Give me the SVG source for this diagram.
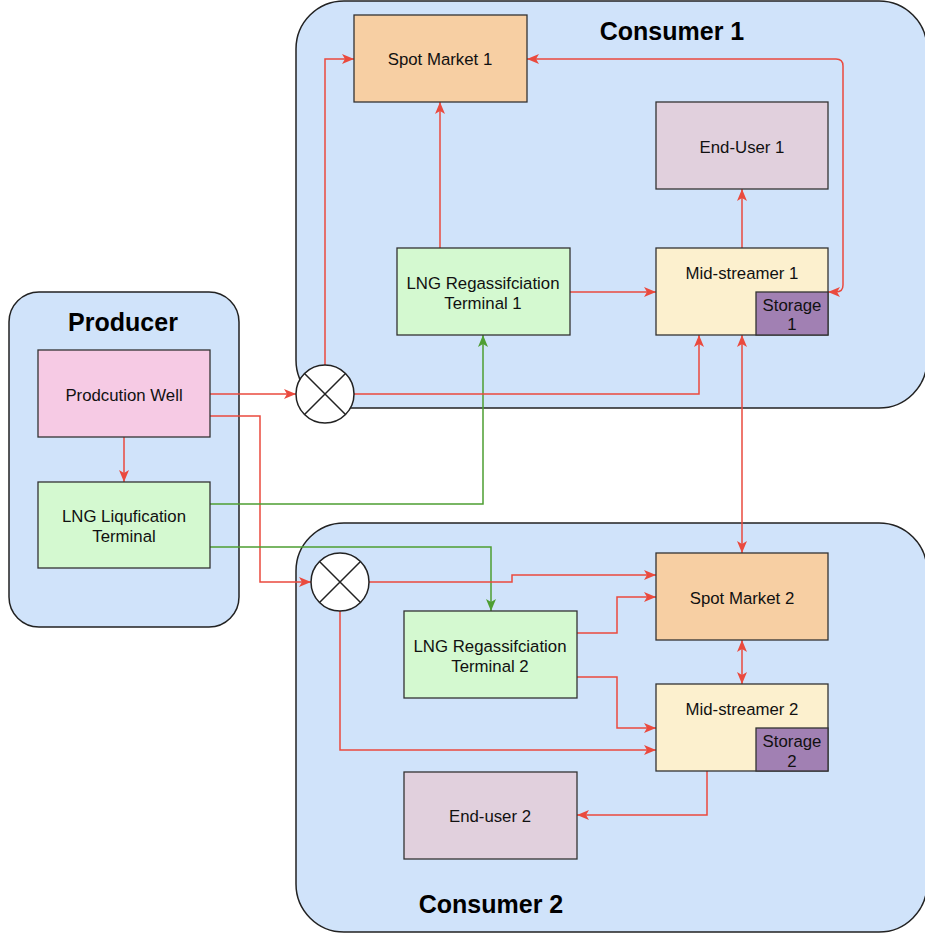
<svg xmlns="http://www.w3.org/2000/svg" width="925" height="936" viewBox="0 0 925 936">
<style>
.cont{fill:#D0E3FA;stroke:#222;stroke-width:1.5}
.box{stroke:#333;stroke-width:1.3}
.t{font-family:"Liberation Sans",Arial,sans-serif;font-size:16.8px;fill:#111;text-anchor:middle;dominant-baseline:central}
.title{font-family:"Liberation Sans",Arial,sans-serif;font-size:25px;font-weight:bold;fill:#000;text-anchor:middle;dominant-baseline:central}
.r{fill:none;stroke:#EA4A3E;stroke-width:1.5;marker-end:url(#ar)}
.rb{fill:none;stroke:#EA4A3E;stroke-width:1.5;marker-end:url(#ar);marker-start:url(#ar)}
.g{fill:none;stroke:#4E9E32;stroke-width:1.5;marker-end:url(#ag)}
.junc{fill:#fff;stroke:#222;stroke-width:1.5}
.x{stroke:#222;stroke-width:1.5}
</style>
<defs>
<marker id="ar" viewBox="0 0 12 12" refX="12" refY="6" markerWidth="12" markerHeight="12" markerUnits="userSpaceOnUse" orient="auto-start-reverse"><path d="M0,1 L12,6 L0,11 L3,6 z" fill="#EA4A3E"/></marker>
<marker id="ag" viewBox="0 0 12 12" refX="12" refY="6" markerWidth="12" markerHeight="12" markerUnits="userSpaceOnUse" orient="auto-start-reverse"><path d="M0,1 L12,6 L0,11 L3,6 z" fill="#4E9E32"/></marker>
</defs>
<rect width="925" height="936" fill="#fff"/>
<g id="consumer1"><rect class="cont" x="296" y="1" width="631" height="407" rx="48"/><text class="title" x="672" y="31">Consumer 1</text></g>
<g id="producer"><rect class="cont" x="9" y="292" width="230" height="335" rx="30"/><text class="title" x="123" y="322">Producer</text></g>
<g id="consumer2"><rect class="cont" x="296" y="523" width="631" height="409" rx="48"/><text class="title" x="491" y="904">Consumer 2</text></g>

<g id="connectors">
<path class="r" d="M210,394 H296"/>
<path class="r" d="M210,416 H260 V582 H311"/>
<path class="r" d="M124,437 V482"/>
<path class="g" d="M210,504 H483 V335"/>
<path class="g" d="M210,547 H491 V611"/>
<path class="r" d="M325,365 V59 H354"/>
<path class="r" d="M354,394 H699 V335"/>
<path class="r" d="M440,248 V102"/>
<path class="r" d="M570,292 H656"/>
<path class="r" d="M742,248 V189"/>
<path class="rb" d="M527,59 H836 Q843,59 843,66 V285 Q843,292 836,292 H828"/>
<path class="rb" d="M742,335 V553"/>
<path class="r" d="M369,582 H512 V575 H656"/>
<path class="r" d="M577,633 H617 V597 H656"/>
<path class="r" d="M577,677 H617 V728 H656"/>
<path class="r" d="M340,611 V750 H656"/>
<path class="rb" d="M742,640 V684"/>
<path class="r" d="M707,771 V815 H577"/>
</g>

<g id="spot1"><rect class="box" x="354" y="15" width="173" height="87" fill="#F7CFA3"/><text class="t" x="440" y="59">Spot Market 1</text></g>
<g id="enduser1"><rect class="box" x="656" y="102" width="172" height="87" fill="#E1D0DD"/><text class="t" x="742" y="147">End-User 1</text></g>
<g id="regas1"><rect class="box" x="397" y="248" width="173" height="87" fill="#D4F9D0"/><text class="t" x="483" y="283">LNG Regassifciation</text><text class="t" x="483" y="303">Terminal 1</text></g>
<g id="mid1"><rect class="box" x="656" y="248" width="172" height="87" fill="#FCF0CE"/><text class="t" x="742" y="273">Mid-streamer 1</text></g>
<g id="storage1"><rect class="box" x="756" y="292" width="72" height="43" fill="#A180B3"/><text class="t" x="792" y="305">Storage</text><text class="t" x="792" y="324">1</text></g>
<g id="junction1"><circle class="junc" cx="325" cy="394" r="29"/><path class="x" d="M304.5,373.5 L345.5,414.5 M345.5,373.5 L304.5,414.5"/></g>

<g id="well"><rect class="box" x="38" y="350" width="172" height="87" fill="#F6CAE4"/><text class="t" x="124" y="395">Prodcution Well</text></g>
<g id="liq"><rect class="box" x="38" y="482" width="172" height="86" fill="#D4F9D0"/><text class="t" x="124" y="516">LNG Liqufication</text><text class="t" x="124" y="536">Terminal</text></g>

<g id="spot2"><rect class="box" x="656" y="553" width="172" height="87" fill="#F7CFA3"/><text class="t" x="742" y="598">Spot Market 2</text></g>
<g id="regas2"><rect class="box" x="404" y="611" width="173" height="87" fill="#D4F9D0"/><text class="t" x="490" y="646">LNG Regassifciation</text><text class="t" x="490" y="666">Terminal 2</text></g>
<g id="mid2"><rect class="box" x="656" y="684" width="172" height="87" fill="#FCF0CE"/><text class="t" x="742" y="709">Mid-streamer 2</text></g>
<g id="storage2"><rect class="box" x="756" y="728" width="72" height="43" fill="#A180B3"/><text class="t" x="792" y="741">Storage</text><text class="t" x="792" y="761">2</text></g>
<g id="enduser2"><rect class="box" x="404" y="772" width="173" height="87" fill="#E1D0DD"/><text class="t" x="490" y="816">End-user 2</text></g>
<g id="junction2"><circle class="junc" cx="340" cy="582" r="29"/><path class="x" d="M319.5,561.5 L360.5,602.5 M360.5,561.5 L319.5,602.5"/></g>
</svg>
